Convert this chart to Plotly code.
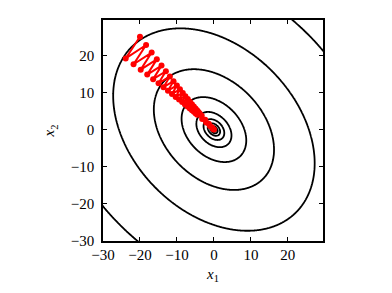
import numpy as np
import plotly.graph_objects as go

# Quadratic f(x1, x2) = QA*x1^2 + 2*QB*x1*x2 + QC*x2^2
QA, QB, QC = 1.0, 1.0 / 3.0, 1.0
# contour levels
LEVELS = [0.3, 0.9, 2.5, 7, 20, 68, 235, 660, 1740]
X_RANGE = [-30, 29.5]
Y_RANGE = [-30, 29.5]
TICKS = [-30, -20, -10, 0, 10, 20]

# gradient-descent path
PATH_X = [-20.0, -23.86, -18.35, -21.74, -16.84, -19.80, -15.45, -18.04, -14.17, -16.44,
          -13.00, -14.98, -11.92, -13.65, -10.93, -12.44, -10.02, -11.34, -9.19, -10.34,
          -8.42, -9.43, -7.72, -8.59, -7.07, -7.84, -6.48, -7.15, -5.94, -6.52,
          -5.44, -5.94, -4.98, -5.42, -4.56, -4.94, -4.18, -4.50, -3.83, -3.3,
          -3.18, -2.35, -2.12, -1.4, -1.07, -0.55, -0.33, -0.1, 0.0]
PATH_Y = [25.0, 19.16, 22.77, 17.58, 20.74, 16.13, 18.90, 14.80, 17.22, 13.58,
          15.70, 12.45, 14.30, 11.41, 13.03, 10.46, 11.88, 9.60, 10.83, 8.80,
          9.87, 8.07, 9.00, 7.39, 8.21, 6.78, 7.48, 6.21, 6.82, 5.68,
          6.22, 5.20, 5.68, 4.77, 5.18, 4.36, 4.72, 4.00, 4.31, 3.7,
          2.82, 2.65, 1.88, 1.6, 0.93, 0.65, 0.27, 0.1, 0.0]

gx = np.linspace(-32, 32, 321)
gy = np.linspace(-32, 32, 321)
XX, YY = np.meshgrid(gx, gy)
F = QA * XX**2 + 2 * QB * XX * YY + QC * YY**2
# monotone map so that the given levels fall on integer contour values
xp = np.log(np.array([1e-9] + LEVELS + [1e7]))
fp = np.array([-12.0] + list(range(len(LEVELS))) + [len(LEVELS) + 10.0])
Z = np.round(np.interp(np.log(F + 1e-12), xp, fp), 4)

fig = go.Figure()
fig.add_trace(go.Contour(
    x=np.round(gx, 4), y=np.round(gy, 4), z=Z,
    contours=dict(start=0, end=len(LEVELS) - 1 + 0.01, size=1, coloring="lines"),
    colorscale=[[0, "black"], [1, "black"]],
    line=dict(width=1.8, smoothing=1),
    showscale=False, hoverinfo="skip",
))
fig.add_trace(go.Scatter(
    x=PATH_X, y=PATH_Y, mode="lines+markers",
    line=dict(color="#ff0000", width=2),
    marker=dict(color="#ff0000", size=6, line=dict(width=0)),
    showlegend=False, cliponaxis=True,
))

tickfont = dict(family="Liberation Serif", size=15, color="black")
titlefont = dict(family="Liberation Serif", size=15, color="black")
axis_common = dict(
    tickvals=TICKS, ticks="inside", ticklen=4, tickwidth=1, tickcolor="black",
    mirror="ticks", showline=True, linecolor="black", linewidth=1.6,
    showgrid=False, zeroline=False, tickfont=tickfont, automargin=False,
)
fig.update_xaxes(range=X_RANGE, title=dict(text="<i>x</i><sub>1</sub>", font=titlefont, standoff=7),
                 ticklabelstandoff=-1, **axis_common)
fig.update_yaxes(range=Y_RANGE, title=dict(text="<i>x</i><sub>2</sub>", font=titlefont, standoff=12),
                 ticklabelstandoff=4, **axis_common)
fig.update_layout(
    width=392, height=293,
    margin=dict(l=103, r=69, t=20, b=52),
    plot_bgcolor="white", paper_bgcolor="white",
    showlegend=False,
)
fig.write_html("out.html")
